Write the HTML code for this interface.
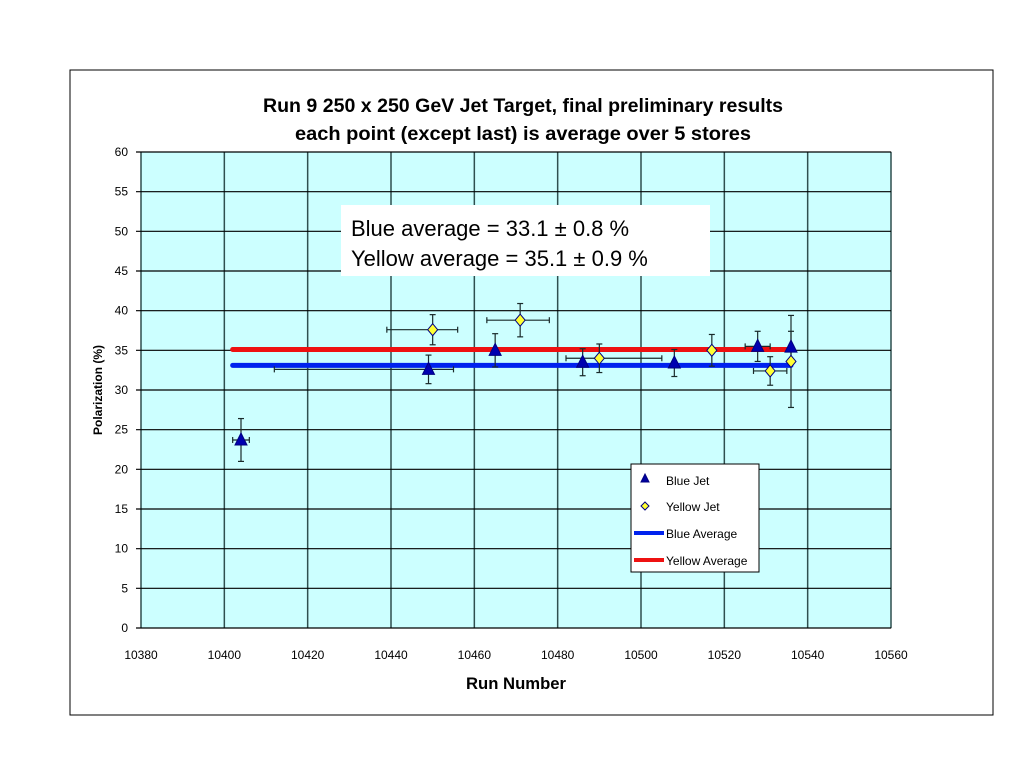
<!DOCTYPE html>
<html><head><meta charset="utf-8"><style>
body{margin:0;background:#fff;width:1024px;height:768px;overflow:hidden;font-family:"Liberation Sans",sans-serif}
</style></head><body>
<svg id="chart" width="1024" height="768" xmlns="http://www.w3.org/2000/svg" font-family="Liberation Sans, sans-serif">
<rect x="70" y="70" width="923" height="645" fill="#fff" stroke="#000" stroke-width="1"/>
<text x="523" y="112" text-anchor="middle" font-size="19" font-weight="bold" textLength="520" lengthAdjust="spacingAndGlyphs">Run 9 250 x 250 GeV Jet Target, final preliminary results</text>
<text x="523" y="140" text-anchor="middle" font-size="19" font-weight="bold" textLength="456" lengthAdjust="spacingAndGlyphs">each point (except last) is average over 5 stores</text>
<rect x="141" y="152" width="750" height="476" fill="#ccffff" stroke="#808080"/>
<g id="grid"></g><g id="axes"></g><g id="marks"></g>
<text transform="translate(102,390) rotate(-90)" text-anchor="middle" font-size="12" font-weight="bold">Polarization (%)</text>
<text x="516" y="689" text-anchor="middle" font-size="17" font-weight="bold" textLength="100" lengthAdjust="spacingAndGlyphs">Run Number</text>
<g>
<rect x="341" y="205" width="369" height="71" fill="#fff"/>
<text x="351" y="236" font-size="22">Blue average = 33.1 ± 0.8 %</text>
<text x="351" y="266" font-size="22">Yellow average = 35.1 ± 0.9 %</text>
</g>
<g>
<rect x="631" y="464" width="128" height="108" fill="#fff" stroke="#000"/>
<g><path d="M645,474 L649,482 L641,482 Z" fill="#0000a0" stroke="#000080"/><text x="666" y="485" font-size="12">Blue Jet</text></g>
<g><path d="M645,502 L649,506 L645,510 L641,506 Z" fill="#ffff33" stroke="#000080"/><text x="666" y="511" font-size="12">Yellow Jet</text></g>
<g><line x1="634" y1="533" x2="664" y2="533" stroke="#0022ee" stroke-width="4"/><text x="666" y="538" font-size="12">Blue Average</text></g>
<g><line x1="634" y1="560" x2="664" y2="560" stroke="#ee1111" stroke-width="4"/><text x="666" y="565" font-size="12">Yellow Average</text></g>
</g>
</svg>
<script>
const xTicks=[10380,10400,10420,10440,10460,10480,10500,10520,10540,10560];
const yTicks=[0,5,10,15,20,25,30,35,40,45,50,55,60];
const blueX=[10404,10449,10465,10486,10508,10528,10536];
const blueY=[23.7,32.6,35.0,33.5,33.4,35.5,35.4];
const blueYErr=[2.7,1.8,2.1,1.7,1.7,1.9,2.0];
const blueXLo=[2,37,0,0,0,3,0];
const blueXHi=[2,6,0,0,0,3,0];
const yelX=[10450,10471,10490,10517,10531,10536];
const yelY=[37.6,38.8,34.0,35.0,32.4,33.6];
const yelYErr=[1.9,2.1,1.8,2.0,1.8,5.8];
const yelXLo=[11,8,8,0,4,0];
const yelXHi=[6,7,15,0,4,0];
const blueAvg=33.1, yelAvg=35.1, avgStart=10402, avgEnd=10536;
const NS='http://www.w3.org/2000/svg';
const X=v=>141+(v-10380)*750/180, Y=v=>628-v*476/60;
function mk(t,a,p){const e=document.createElementNS(NS,t);for(const k in a)e.setAttribute(k,a[k]);p.appendChild(e);return e;}
const grid=document.getElementById('grid'),axes=document.getElementById('axes'),marks=document.getElementById('marks');
xTicks.forEach(t=>{const l=mk('line',{x1:X(t),x2:X(t),y1:152,y2:628,stroke:'#2f4f4f','stroke-width':1.5},grid);

const tx=mk('text',{x:X(t),y:659,'text-anchor':'middle','font-size':12},axes);tx.textContent=t;
});
yTicks.forEach(t=>{const l=mk('line',{x1:136,x2:891,y1:Y(t),y2:Y(t),stroke:'#000','stroke-width':1.2},grid);

const tx=mk('text',{x:128,y:Y(t)+4,'text-anchor':'end','font-size':12},axes);tx.textContent=t;
});
function avgLine(v,c,n){const l=mk('line',{x1:X(avgStart),x2:X(avgEnd),y1:Y(v),y2:Y(v),stroke:c,'stroke-width':5,'stroke-linecap':'round'},marks);
}
avgLine(yelAvg,'#ee1111','yellow-average-line');
avgLine(blueAvg,'#0022ee','blue-average-line');
function errs(xs,ys,ye,xl,xh){xs.forEach((x,i)=>{const cx=X(x),cy=Y(ys[i]),t=Y(ys[i]+ye[i]),b=Y(ys[i]-ye[i]);
const g=mk('g',{stroke:'#1a2a2a','stroke-width':1.2},marks);

mk('line',{x1:cx,x2:cx,y1:t,y2:b},g);mk('line',{x1:cx-3,x2:cx+3,y1:t,y2:t},g);mk('line',{x1:cx-3,x2:cx+3,y1:b,y2:b},g);
if(xl[i]||xh[i]){const a=X(x-xl[i]),c=X(x+xh[i]);mk('line',{x1:a,x2:c,y1:cy,y2:cy},g);mk('line',{x1:a,x2:a,y1:cy-3,y2:cy+3},g);mk('line',{x1:c,x2:c,y1:cy-3,y2:cy+3},g);}});}
errs(blueX,blueY,blueYErr,blueXLo,blueXHi);
errs(yelX,yelY,yelYErr,yelXLo,yelXHi);
blueX.forEach((x,i)=>{const cx=X(x),cy=Y(blueY[i]);
const p=mk('path',{d:`M${cx},${cy-7} L${cx+6},${cy+5} L${cx-6},${cy+5} Z`,fill:'#0000b0',stroke:'#000080'},marks);
});
yelX.forEach((x,i)=>{const cx=X(x),cy=Y(yelY[i]);
const p=mk('path',{d:`M${cx},${cy-6} L${cx+5},${cy} L${cx},${cy+6} L${cx-5},${cy} Z`,fill:'#ffff33',stroke:'#000080'},marks);
});
</script>
</body></html>
